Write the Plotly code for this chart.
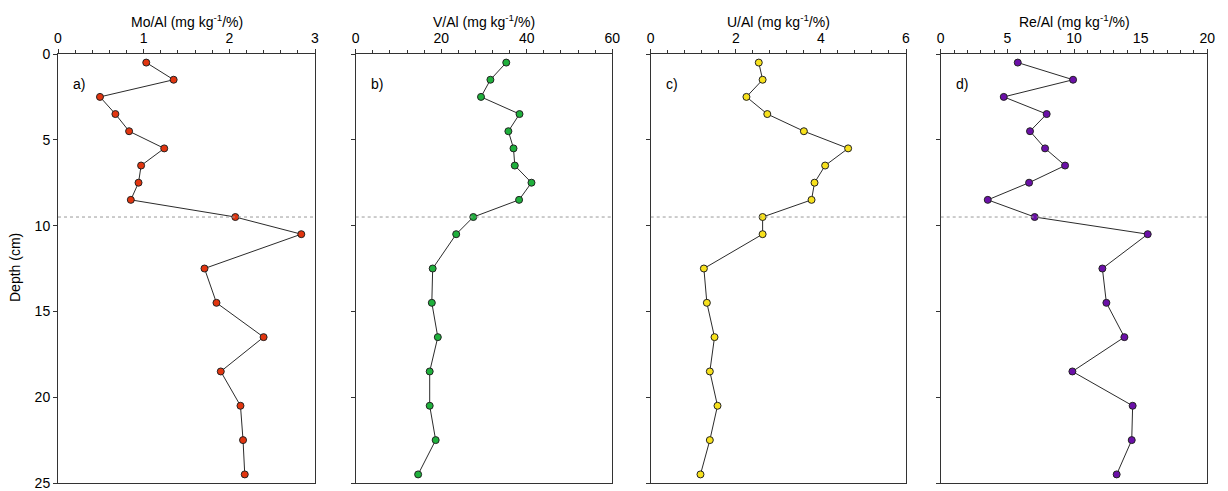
import plotly.graph_objects as go

depth = [0.5, 1.5, 2.5, 3.5, 4.5, 5.5, 6.5, 7.5, 8.5, 9.5, 10.5,
         12.5, 14.5, 16.5, 18.5, 20.5, 22.5, 24.5]
mo_al = [1.03, 1.35, 0.49, 0.67, 0.83, 1.24, 0.97, 0.94, 0.85, 2.07, 2.84,
         1.71, 1.85, 2.40, 1.90, 2.13, 2.16, 2.18]
v_al = [35.2, 31.5, 29.3, 38.3, 35.7, 36.9, 37.2, 41.1, 38.2, 27.5, 23.5,
        18.0, 17.8, 19.2, 17.3, 17.3, 18.7, 14.6]
u_al = [2.54, 2.63, 2.25, 2.74, 3.60, 4.64, 4.10, 3.85, 3.78, 2.63, 2.63,
        1.25, 1.32, 1.50, 1.39, 1.57, 1.39, 1.17]
re_al = [5.78, 9.93, 4.73, 7.95, 6.70, 7.83, 9.33, 6.63, 3.53, 7.05, 15.53,
         12.13, 12.43, 13.78, 9.88, 14.40, 14.33, 13.20]

titles = ["Mo/Al (mg kg<sup>-1</sup>/%)", "V/Al (mg kg<sup>-1</sup>/%)",
          "U/Al (mg kg<sup>-1</sup>/%)", "Re/Al (mg kg<sup>-1</sup>/%)"]
panel_labels = ["a)", "b)", "c)", "d)"]
x_max = [3, 60, 6, 20]
x_dtick = [1, 20, 2, 5]
boundary_depth = 9.5
depth_ticks = [0, 5, 10, 15, 20, 25]

series = [mo_al, v_al, u_al, re_al]
colors = ["#e2350f", "#1fb03c", "#f7e11c", "#6b10a8"]

W, H = 1228, 491
px_x = [(58, 315), (355.7, 612.3), (650.7, 906), (940.7, 1207.3)]
py_top, py_bot = 54, 483
ydom = [1 - py_bot / H, 1 - py_top / H]

fig = go.Figure()
font = dict(family="Liberation Sans, Arial, sans-serif", size=14, color="#000")

for i in range(4):
    xa = "x" if i == 0 else f"x{i+1}"
    ya = "y" if i == 0 else f"y{i+1}"
    fig.add_trace(go.Scatter(
        x=series[i], y=depth, xaxis=xa, yaxis=ya, mode="lines+markers",
        line=dict(color="#2b2b2b", width=1),
        marker=dict(size=7, color=colors[i], line=dict(color="#222", width=1)),
        showlegend=False, cliponaxis=False))
    xd = [px_x[i][0] / W, px_x[i][1] / W]
    xkey = "xaxis" if i == 0 else f"xaxis{i+1}"
    ykey = "yaxis" if i == 0 else f"yaxis{i+1}"
    fig.layout[xkey] = dict(
        domain=xd, anchor=ya, side="top", range=[0, x_max[i]],
        tickmode="linear", tick0=0, dtick=x_dtick[i],
        ticks="outside", ticklen=4, tickwidth=1, tickcolor="#333",
        minor=dict(ticks="outside", ticklen=3, tickwidth=1, tickcolor="#333",
                   dtick=x_dtick[i] / 5, tick0=0),
        showline=True, linecolor="#333", linewidth=1, mirror=True,
        showgrid=False, zeroline=False, tickfont=font, ticklabelstandoff=0,
        automargin=False, fixedrange=True)
    fig.layout[ykey] = dict(
        domain=ydom, anchor=xa, range=[25, 0],
        tickmode="array", tickvals=depth_ticks,
        ticks="outside", ticklen=4, tickwidth=1, tickcolor="#333",
        showticklabels=(i == 0),
        showline=True, linecolor="#333", linewidth=1, mirror=True,
        showgrid=False, zeroline=False, tickfont=font,
        automargin=False, fixedrange=True)
    fig.add_shape(type="line", xref=xa, yref=ya, x0=0, x1=x_max[i],
                  y0=boundary_depth, y1=boundary_depth,
                  line=dict(color="#999", width=1, dash="dot"))
    fig.add_annotation(x=(px_x[i][0] + px_x[i][1]) / 2 / W, xref="paper",
                       y=1 - 21 / H, yref="paper", text=titles[i],
                       showarrow=False, font=font, xanchor="center", yanchor="middle")
    fig.add_annotation(x=(px_x[i][0] + 13) / W, xref="paper", xanchor="left",
                       y=1 - 84 / H, yref="paper", yanchor="middle",
                       text=panel_labels[i], showarrow=False, font=font)

fig.add_annotation(x=15 / W, xref="paper", y=1 - 268 / H, yref="paper",
                   text="Depth (cm)", textangle=-90, showarrow=False, font=font,
                   xanchor="center", yanchor="middle")

fig.update_layout(width=W, height=H, margin=dict(l=0, r=0, t=0, b=0),
                  paper_bgcolor="white", plot_bgcolor="white")
fig.write_html("out.html", config={"displayModeBar": False},
               post_script="document.body.style.margin='0';document.body.style.overflow='hidden';")
